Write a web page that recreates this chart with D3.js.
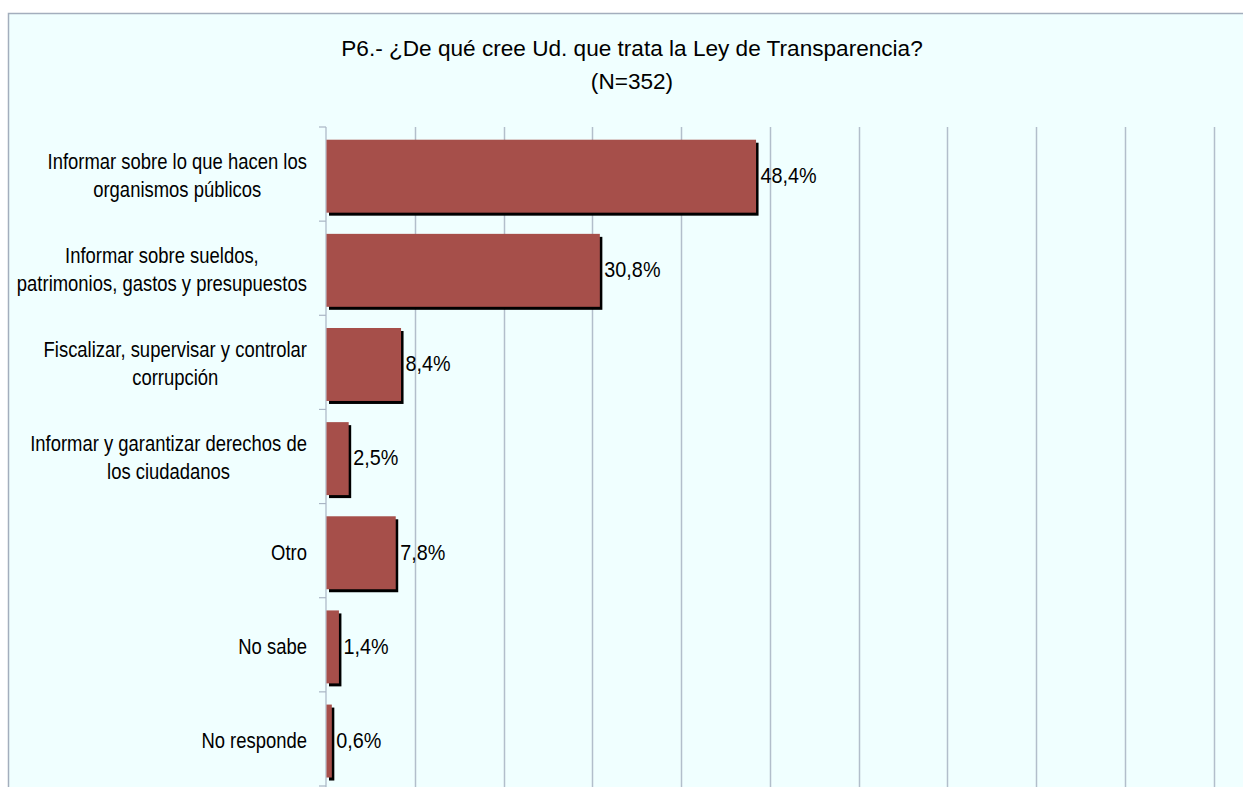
<!DOCTYPE html>
<html>
<head>
<meta charset="utf-8">
<script src="https://cdn.jsdelivr.net/npm/d3@7"></script>
<style>
  body { margin: 0; background: #fff; }
  text { font-family: "Liberation Sans", Arial, sans-serif; fill: #000; }
</style>
</head>
<body>
<svg id="chart"></svg>
<script>
const width = 1243;
const height = 787;

// chart data
const titleLines = ["P6.- ¿De qué cree Ud. que trata la Ley de Transparencia?", "(N=352)"];
const categories = [
  ["Informar sobre lo que hacen los", "organismos públicos"],
  ["Informar sobre sueldos,", "patrimonios, gastos y presupuestos"],
  ["Fiscalizar, supervisar y controlar", "corrupción"],
  ["Informar y garantizar derechos de", "los ciudadanos"],
  ["Otro"],
  ["No sabe"],
  ["No responde"]
];
const values = [48.4, 30.8, 8.4, 2.5, 7.8, 1.4, 0.6];
const gridTicks = [0, 10, 20, 30, 40, 50, 60, 70, 80, 90, 100];

const margin = { top: 127, left: 326, right: 1243 - 1213.5, bottom: 1 };
// the reference uses a narrow face; squeeze Liberation Sans horizontally
const catSqueeze = 0.82;
const valSqueeze = 0.88;

const svg = d3.select("#chart")
  .attr("width", width)
  .attr("height", height);

// chart area frame
svg.append("rect")
  .attr("x", 8.5).attr("y", 13.5)
  .attr("width", width + 20).attr("height", height + 20)
  .attr("fill", "#F0FFFF")
  .attr("stroke", "#A3AEBD")
  .attr("stroke-width", 1.5);

// title
svg.append("text")
  .attr("x", 632)
  .attr("text-anchor", "middle")
  .style("font-size", "22.6px")
  .selectAll("tspan")
  .data(titleLines)
  .join("tspan")
  .attr("x", 632)
  .attr("y", (d, i) => 56 + i * 33)
  .text(d => d);

const x = d3.scaleLinear()
  .domain([0, 100])
  .range([margin.left, width - margin.right]);

const y = d3.scaleBand()
  .domain(d3.range(categories.length))
  .range([margin.top, height - margin.bottom])
  .paddingInner(0.225)
  .paddingOuter(0.1125)
  .align(0.6);

// vertical gridlines
svg.append("g")
  .selectAll("line")
  .data(gridTicks.slice(1))
  .join("line")
  .attr("x1", d => Math.round(x(d)) + 0.5)
  .attr("x2", d => Math.round(x(d)) + 0.5)
  .attr("y1", margin.top)
  .attr("y2", height)
  .attr("stroke", "#B2BECB")
  .attr("stroke-width", 1.5);

// category axis: line + ticks at band boundaries
const step = y.step();
const boundaries = d3.range(categories.length + 1).map(i => margin.top + i * step);
const axis = svg.append("g").attr("stroke", "#A9B5C4").attr("stroke-width", 1.2);
axis.append("line")
  .attr("x1", margin.left).attr("x2", margin.left)
  .attr("y1", margin.top).attr("y2", height);
axis.selectAll("line.tick")
  .data(boundaries)
  .join("line")
  .attr("class", "tick")
  .attr("x1", margin.left - 7).attr("x2", margin.left)
  .attr("y1", d => d).attr("y2", d => d);

// bars with offset shadow
const bars = svg.append("g");
bars.selectAll("rect.shadow")
  .data(values)
  .join("rect")
  .attr("class", "shadow")
  .attr("x", x(0) + 3)
  .attr("y", (d, i) => y(i) + 3)
  .attr("width", d => x(d) - x(0))
  .attr("height", y.bandwidth())
  .attr("fill", "#000");
bars.selectAll("rect.bar")
  .data(values)
  .join("rect")
  .attr("class", "bar")
  .attr("x", x(0) + 0.5)
  .attr("y", (d, i) => y(i))
  .attr("width", d => x(d) - x(0))
  .attr("height", y.bandwidth())
  .attr("fill", "#A64F4A");

// value labels
svg.append("g")
  .selectAll("g")
  .data(values)
  .join("g")
  .attr("transform", (d, i) => `translate(${x(d) + 5},${y(i) + y.bandwidth() / 2 - 1}) scale(${valSqueeze},1)`)
  .append("text")
  .attr("dy", "0.35em")
  .style("font-size", "22.5px")
  .text(d => d.toFixed(1).replace(".", ",") + "%");

// category labels: block right-aligned, lines centred within the block
const labelRight = 307;
const lineH = 28;
const labels = svg.append("g")
  .selectAll("g")
  .data(categories)
  .join("g");

labels.each(function(lines, i) {
  const g = d3.select(this);
  const t = g.append("text")
    .attr("text-anchor", "middle")
    .style("font-size", "22.5px");
  const cy = margin.top + (i + 0.5) * step + 1;
  const y0 = -(lines.length - 1) * lineH / 2;
  t.selectAll("tspan")
    .data(lines)
    .join("tspan")
    .attr("x", 0)
    .attr("y", (d, j) => y0 + j * lineH)
    .attr("dy", "0.35em")
    .text(d => d);
  let w = 0;
  t.selectAll("tspan").each(function() { w = Math.max(w, this.getComputedTextLength()); });
  g.attr("transform", `translate(${labelRight - w * catSqueeze / 2},${cy}) scale(${catSqueeze},1)`);
});
</script>
</body>
</html>
